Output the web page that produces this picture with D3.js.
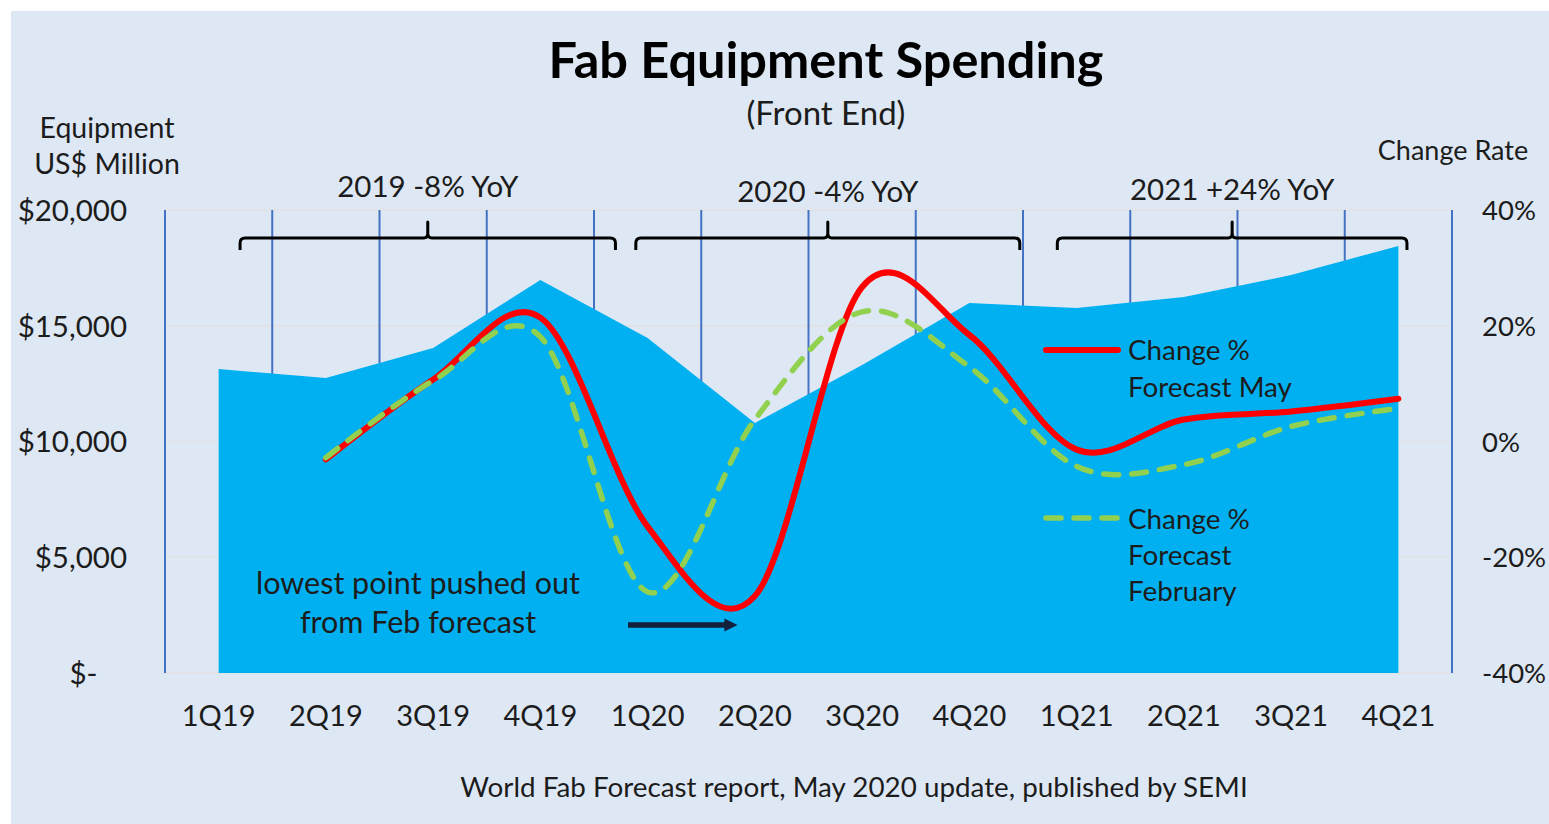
<!DOCTYPE html>
<html>
<head>
<meta charset="utf-8">
<script src="https://cdn.jsdelivr.net/npm/d3@7"></script>
<style>
  body { margin: 0; background: #fff; }
  text { font-family: Lato, "Open Sans", sans-serif; fill: #1c1c1c; }
</style>
</head>
<body>
<div id="chart"></div>
<script>
// data
var quarters = ["1Q19", "2Q19", "3Q19", "4Q19", "1Q20", "2Q20", "3Q20", "4Q20", "1Q21", "2Q21", "3Q21", "4Q21"];
var spending = [13130, 12740, 14040, 16980, 14470, 10800, 13300, 15980, 15770, 16240, 17190, 18450];
var changeMay = [null, -3.1, 10.7, 21.4, -14.7, -26.7, 26.7, 18.4, -1.4, 3.8, 5.2, 7.4];
var changeFeb = [null, -2.8, 10.5, 18.1, -26.0, 3.8, 22.4, 12.9, -4.3, -4.0, 2.6, 5.7];
var leftTicks = [0, 5000, 10000, 15000, 20000];
var rightTicks = [-40, -20, 0, 20, 40];
var yearNotes = ["2019 -8% YoY", "2020 -4% YoY", "2021 +24% YoY"];
var yearFirstQ = ["1Q19", "1Q20", "1Q21"];
var yearLastQ = ["4Q19", "4Q20", "4Q21"];

var svgWidth = 1549;
var svgHeight = 824;
var margin = { top: 210, right: 97, bottom: 151, left: 165 };
var width = svgWidth - margin.left - margin.right;
var height = svgHeight - margin.top - margin.bottom;

var svg = d3.select("#chart")
  .append("svg")
  .attr("width", svgWidth)
  .attr("height", svgHeight);

svg.append("rect")
  .attr("x", 11).attr("y", 11)
  .attr("width", svgWidth - 11).attr("height", svgHeight - 11)
  .attr("fill", "#dee8f4");

var chart = svg.append("g")
  .attr("transform", "translate(" + margin.left + "," + margin.top + ")");

// scales
var x = d3.scaleBand().domain(quarters).range([0, width]);
var bw = x.bandwidth();
function cx(q) { return x(q) + bw / 2; }
var yLeft = d3.scaleLinear().domain([0, 20000]).range([height, 0]);
var yRight = d3.scaleLinear().domain([-40, 40]).range([height, 0]);

// faint horizontal gridlines
chart.selectAll(".hgrid")
  .data(leftTicks)
  .enter().append("line")
  .attr("x1", 0).attr("x2", width)
  .attr("y1", function(d) { return yLeft(d); })
  .attr("y2", function(d) { return yLeft(d); })
  .attr("stroke", "#e2e2e2")
  .attr("stroke-width", 1.5);

// vertical lines between quarters
var bounds = quarters.map(function(q) { return x(q); }).concat([width]);
chart.selectAll(".vgrid")
  .data(bounds)
  .enter().append("line")
  .attr("x1", function(d) { return d; })
  .attr("x2", function(d) { return d; })
  .attr("y1", 0).attr("y2", height)
  .attr("stroke", "#4472c4")
  .attr("stroke-width", 2);

// spending area
var area = d3.area()
  .x(function(d, i) { return cx(quarters[i]); })
  .y0(height)
  .y1(function(d) { return yLeft(d); });

chart.append("path")
  .datum(spending)
  .attr("d", area)
  .attr("fill", "#00b0f0");

// change rate lines
var line = d3.line()
  .defined(function(d) { return d != null; })
  .x(function(d, i) { return cx(quarters[i]); })
  .y(function(d) { return yRight(d); })
  .curve(d3.curveCardinal.tension(0));

chart.append("path")
  .datum(changeMay)
  .attr("d", line)
  .attr("fill", "none")
  .attr("stroke", "#ff0000")
  .attr("stroke-width", 6)
  .attr("stroke-linecap", "round");

chart.append("path")
  .datum(changeFeb)
  .attr("d", line)
  .attr("fill", "none")
  .attr("stroke", "#92d050")
  .attr("stroke-width", 5.5)
  .attr("stroke-dasharray", "15,13")
  .attr("stroke-linecap", "round");

// axes
var leftAxis = d3.axisLeft(yLeft)
  .tickValues(leftTicks)
  .tickSize(0)
  .tickPadding(38)
  .tickFormat(function(d) { return d === 0 ? "$-\u2002\u2002" : "$" + d3.format(",")(d); });

var rightAxis = d3.axisRight(yRight)
  .tickValues(rightTicks)
  .tickSize(0)
  .tickPadding(30)
  .tickFormat(function(d) { return d + "%"; });

var bottomAxis = d3.axisBottom(x).tickSize(0);

var gl = chart.append("g").call(leftAxis);
var gr = chart.append("g").attr("transform", "translate(" + width + ",0)").call(rightAxis);
var gb = chart.append("g").attr("transform", "translate(0," + height + ")").call(bottomAxis);

[gl, gr, gb].forEach(function(g) {
  g.attr("font-family", null).attr("font-size", null);
  g.select(".domain").remove();
  g.selectAll("text").attr("font-size", 29.5).attr("fill", "#1c1c1c");
});
gl.selectAll("text").attr("dy", "0.35em");
gr.selectAll("text").attr("dy", "0.35em").attr("font-size", 27.5);
gb.selectAll("text").attr("y", 53).attr("dy", 0).attr("font-size", 29);

// axis titles
svg.append("text").attr("x", 107).attr("y", 138).attr("text-anchor", "middle")
  .attr("font-size", 28.5).text("Equipment");
svg.append("text").attr("x", 107).attr("y", 174).attr("text-anchor", "middle")
  .attr("font-size", 28.5).text("US$ Million");
svg.append("text").attr("x", 1453).attr("y", 160).attr("text-anchor", "middle")
  .attr("font-size", 27).text("Change Rate");

// title
svg.append("text").attr("x", 826).attr("y", 78).attr("text-anchor", "middle")
  .attr("font-size", 50.5).attr("font-weight", "bold").style("fill", "#000").text("Fab Equipment Spending");
svg.append("text").attr("x", 826).attr("y", 125).attr("text-anchor", "middle")
  .attr("font-size", 33).text("(Front End)");

// year brackets
var bracketStart = [0.7, 0.39, 0.32];   // offset into first quarter band
var bracketEnd = [0.2, -0.03, -0.42];   // offset past last quarter band
var labelY = [-13, -8, -10];
yearNotes.forEach(function(note, i) {
  var s = x(yearFirstQ[i]) + bracketStart[i] * bw;
  var e = x(yearLastQ[i]) + bw + bracketEnd[i] * bw;
  var m = (s + e) / 2;
  var yb = 28;
  var p = d3.path();
  p.moveTo(s, yb + 12);
  p.lineTo(s, yb + 5);
  p.quadraticCurveTo(s, yb, s + 5, yb);
  p.lineTo(m - 4, yb);
  p.quadraticCurveTo(m, yb, m, yb - 5);
  p.lineTo(m, yb - 16);
  p.lineTo(m, yb - 5);
  p.quadraticCurveTo(m, yb, m + 4, yb);
  p.lineTo(e - 5, yb);
  p.quadraticCurveTo(e, yb, e, yb + 5);
  p.lineTo(e, yb + 12);
  chart.append("path")
    .attr("d", p.toString())
    .attr("fill", "none")
    .attr("stroke", "#000")
    .attr("stroke-width", 3)
    .attr("stroke-linejoin", "round");
  chart.append("text")
    .attr("x", m).attr("y", labelY[i])
    .attr("text-anchor", "middle")
    .attr("font-size", 29.5)
    .text(note);
});

// legend
var legend = svg.append("g");
legend.append("line").attr("x1", 1046).attr("x2", 1118).attr("y1", 350).attr("y2", 350)
  .attr("stroke", "#ff0000").attr("stroke-width", 6).attr("stroke-linecap", "round");
legend.append("line").attr("x1", 1046).attr("x2", 1118).attr("y1", 518).attr("y2", 518)
  .attr("stroke", "#92d050").attr("stroke-width", 5.5).attr("stroke-dasharray", "15,13")
  .attr("stroke-linecap", "round");
[["Change %", 360], ["Forecast May", 397], ["Change %", 529], ["Forecast", 565], ["February", 601]]
  .forEach(function(t) {
    legend.append("text").attr("x", 1128).attr("y", t[1]).attr("font-size", 27.8).text(t[0]);
  });

// note and arrow
svg.append("text").attr("x", 418).attr("y", 594).attr("text-anchor", "middle")
  .attr("font-size", 30.5).text("lowest point pushed out");
svg.append("text").attr("x", 418).attr("y", 633).attr("text-anchor", "middle")
  .attr("font-size", 30.5).text("from Feb forecast");

svg.append("defs").append("marker")
  .attr("id", "arrow")
  .attr("viewBox", "0 0 10 10")
  .attr("refX", 2).attr("refY", 5)
  .attr("markerWidth", 2.4).attr("markerHeight", 2.4)
  .attr("orient", "auto")
  .append("path").attr("d", "M0,0 L10,5 L0,10 z").attr("fill", "#14213d");
svg.append("line").attr("x1", 628).attr("x2", 727).attr("y1", 625).attr("y2", 625)
  .attr("stroke", "#14213d").attr("stroke-width", 5.5)
  .attr("marker-end", "url(#arrow)");

// source
svg.append("text").attr("x", 854).attr("y", 797).attr("text-anchor", "middle")
  .attr("font-size", 27.8).text("World Fab Forecast report, May 2020 update, published by SEMI");
</script>
</body>
</html>
